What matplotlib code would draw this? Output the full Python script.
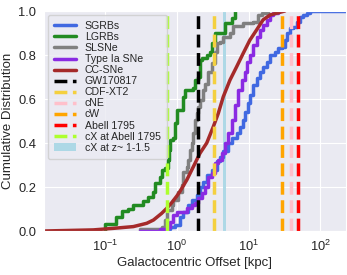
import matplotlib
matplotlib.use("Agg")
import matplotlib.pyplot as plt
import seaborn as sns

sns.set_style("darkgrid")
plt.rcParams['font.family'] = ['Liberation Sans', 'DejaVu Sans']

# ---- data ----
sgrb_x = [0.64, 0.68, 0.8, 0.94, 1.1, 1.22, 1.44, 1.6, 1.88, 2.09, 2.33, 2.6, 3.05, 3.58, 3.98, 4.42,
          5.19, 5.8, 6.8, 7.57, 8.4, 8.88, 9.87, 10.4, 11.6, 12.9, 14.4, 15.9, 17.8, 19.8, 23.3, 25.9,
          28.8, 32.1, 33.9, 37.7, 41.9, 46.8, 51.9, 57.6, 64.5, 71.6, 227]
sgrb_y = [0.0, 0.009, 0.02, 0.027, 0.065, 0.088, 0.118, 0.141, 0.164, 0.20, 0.223, 0.255, 0.277, 0.318,
          0.338, 0.365, 0.399, 0.421, 0.444, 0.473, 0.505, 0.541, 0.582, 0.618, 0.664, 0.694, 0.724,
          0.747, 0.77, 0.80, 0.815, 0.83, 0.838, 0.868, 0.899, 0.921, 0.929, 0.951, 0.974, 0.982, 0.99,
          1.0, 1.0]

lgrb_x = [0.099, 0.099, 0.141, 0.169, 0.207, 0.243, 0.336, 0.394, 0.458, 0.493, 0.579, 0.618, 0.68, 0.75,
          0.78, 0.8, 0.88, 0.94, 1.0, 1.21, 1.29, 1.67, 1.78, 1.96, 2.1, 2.21, 2.6, 2.9, 3.1, 3.39, 4.67,
          5.8, 6.45]
lgrb_y = [0.0, 0.03, 0.065, 0.09, 0.10, 0.118, 0.138, 0.156, 0.179, 0.218, 0.247, 0.277, 0.286, 0.323,
          0.37, 0.414, 0.423, 0.49, 0.55, 0.61, 0.64, 0.65, 0.686, 0.70, 0.777, 0.786, 0.80, 0.814, 0.855,
          0.90, 0.945, 0.968, 1.0]

slsn_x = [0.305, 0.305, 0.61, 0.68, 0.72, 0.84, 0.89, 1.04, 1.16, 1.22, 1.37, 1.44, 1.52, 1.6, 1.69, 1.78,
          1.88, 1.98, 2.09, 2.33, 2.46, 2.73, 3.05, 3.39, 3.58, 3.98, 4.42, 5.48, 6.1, 8.4, 11.6, 13.6,
          15.1, 18.6]
slsn_y = [0.0, 0.009, 0.02, 0.05, 0.095, 0.118, 0.14, 0.179, 0.209, 0.27, 0.292, 0.323, 0.368, 0.40,
          0.444, 0.505, 0.535, 0.565, 0.595, 0.64, 0.67, 0.724, 0.762, 0.815, 0.853, 0.86, 0.883, 0.90,
          0.93, 0.944, 0.951, 0.982, 0.99, 1.0]

ia_x = [0.305, 0.58, 0.75, 0.8, 0.89, 1.0, 1.37, 1.6, 1.78, 1.98, 2.21, 2.46, 2.73, 3.05, 3.39, 3.77,
        4.2, 4.67, 5.19, 5.8, 6.45, 7.16, 7.98, 8.88, 9.38, 10.4, 11.6, 12.9, 14.4, 15.9, 17.8, 19.8,
        22.0, 25.9]
ia_y = [0.0, 0.011, 0.018, 0.04, 0.073, 0.088, 0.103, 0.118, 0.126, 0.149, 0.171, 0.2, 0.247, 0.262,
        0.308, 0.323, 0.353, 0.40, 0.444, 0.505, 0.573, 0.641, 0.686, 0.724, 0.77, 0.8, 0.845, 0.883,
        0.914, 0.936, 0.959, 0.982, 0.99, 1.0]

ccsn_x = [0.014, 0.068, 0.129, 0.246, 0.378, 0.47, 0.61, 0.72, 0.85, 1.0, 1.1, 1.37, 1.69, 2.09, 2.6,
          3.21, 3.77, 4.42, 5.48, 6.8, 8.4, 10.4, 12.9, 15.9, 19.9, 24.6, 32]
ccsn_y = [0.0, 0.005, 0.012, 0.02, 0.035, 0.05, 0.08, 0.103, 0.13, 0.16, 0.18, 0.232, 0.292, 0.353,
          0.40, 0.474, 0.535, 0.61, 0.686, 0.747, 0.808, 0.868, 0.914, 0.96, 0.982, 0.99, 1.0]

vline_labels = ["GW170817", "CDF-XT2", "cNE", "cW", "Abell 1795", "cX at Abell 1795"]
vline_x = [1.96, 3.3, 38.5, 29.0, 48.0, 0.72]
vline_colors = ["black", "#F4D03F", "pink", "orange", "red", "greenyellow"]

span_label = "cX at z~ 1-1.5"
span_range = [4.4, 4.8]

fig = plt.figure(figsize=(3.47, 2.75), dpi=100)
ax = fig.add_axes([0.1268, 0.16, 0.870, 0.80])

ax.axvspan(span_range[0], span_range[1], color="lightblue", lw=0, label=span_label, zorder=1)

lw = 2.5
ax.plot(sgrb_x, sgrb_y, drawstyle="steps-post", color="royalblue", lw=lw, label="SGRBs")
ax.plot(lgrb_x, lgrb_y, drawstyle="steps-post", color="forestgreen", lw=lw, label="LGRBs")
ax.plot(slsn_x, slsn_y, drawstyle="steps-post", color="gray", lw=lw, label="SLSNe")
ax.plot(ia_x, ia_y, drawstyle="steps-post", color="blueviolet", lw=lw, label="Type Ia SNe")
ax.plot(ccsn_x, ccsn_y, color="brown", lw=lw, label="CC-SNe")

for lab, xv, c in zip(vline_labels, vline_x, vline_colors):
    ax.axvline(xv, color=c, lw=lw, ls="--", label=lab)

ax.set_xscale("log")
ax.set_xlim(0.01396, 227)
ax.set_ylim(0, 1)
ax.set_yticks([0.0, 0.2, 0.4, 0.6, 0.8, 1.0])
ax.tick_params(labelsize=9.3, pad=2)
ax.set_xlabel("Galactocentric Offset [kpc]", fontsize=9.5, labelpad=2)
ax.set_ylabel("Cumulative Distribution", fontsize=9.5, labelpad=3)

handles, labels = ax.get_legend_handles_labels()
order = ["SGRBs", "LGRBs", "SLSNe", "Type Ia SNe", "CC-SNe"] + vline_labels + [span_label]
hmap = dict(zip(labels, handles))
ax.legend([hmap[l] for l in order], order, loc="upper left", fontsize=7.6,
          handlelength=2.1, labelspacing=0.1, borderpad=0.6, borderaxespad=0.35, frameon=True)

fig.savefig("out.png", dpi=100)
